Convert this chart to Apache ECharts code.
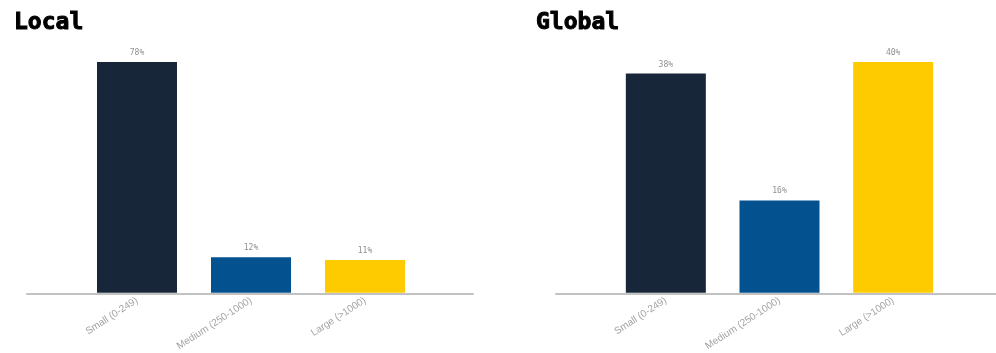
<!DOCTYPE html>
<html>
<head>
<meta charset="utf-8">
<script src="https://cdn.jsdelivr.net/npm/echarts@6/dist/echarts.min.js"></script>
<style>
  html, body { margin: 0; padding: 0; background: #fff; }
  #chart { width: 996px; height: 353px; }
</style>
</head>
<body>
<div id="chart"></div>
<script>
// Company size breakdown, local vs global
const categories = ['Small (0-249)', 'Medium (250-1000)', 'Large (>1000)'];
const localShare = [78, 12, 11];
const globalShare = [38, 16, 40];
const panelTitles = ['Local', 'Global'];

const barColors = ['#182639', '#03518f', '#fecb00'];

const chart = echarts.init(document.getElementById('chart'), null, { renderer: 'canvas' });

const PLOT_TOP = 62;
const PLOT_H = 232;

function coloured(values) {
  return values.map((v, i) => ({ value: v, itemStyle: { color: barColors[i] } }));
}

const titleStyle = {
  fontFamily: 'DejaVu Sans Mono',
  fontWeight: 'bold',
  fontSize: 23,
  color: '#000',
  textBorderColor: '#000',
  textBorderWidth: 1
};

const hiddenValueAxis = (gridIndex, max) => ({
  type: 'value', gridIndex, min: 0, max,
  show: false
});

const categoryAxis = (gridIndex) => ({
  type: 'category', gridIndex, data: categories,
  axisLine: { show: false },
  axisTick: { show: false },
  axisLabel: {
    rotate: 33, margin: 7, interval: 0,
    color: '#a3a3a3', fontSize: 10, fontFamily: 'Liberation Sans'
  }
});

const baselineAxis = (gridIndex) => ({
  type: 'value', gridIndex, min: 0, max: 1,
  axisLine: { show: true, lineStyle: { color: '#c2c2c2', width: 2 } },
  axisTick: { show: false },
  axisLabel: { show: false },
  splitLine: { show: false }
});

const valueLabel = {
  show: true, position: 'top', distance: 5,
  formatter: '{c}%',
  fontFamily: 'DejaVu Sans Mono', fontSize: 8, color: '#8f8f8f'
};

chart.setOption({
  animation: false,
  backgroundColor: '#fff',
  title: [
    { text: panelTitles[0], left: 9, top: 7, textStyle: titleStyle },
    { text: panelTitles[1], left: 531, top: 7, textStyle: titleStyle }
  ],
  grid: [
    // bars, local
    { left: 80, width: 342, top: PLOT_TOP, height: PLOT_H },
    // baseline, local
    { left: 27, width: 446, top: PLOT_TOP, height: PLOT_H },
    // bars, global
    { left: 609, width: 341, top: PLOT_TOP, height: PLOT_H },
    // baseline, global
    { left: 556, width: 440, top: PLOT_TOP, height: PLOT_H }
  ],
  xAxis: [
    categoryAxis(0),
    baselineAxis(1),
    categoryAxis(2),
    baselineAxis(3)
  ],
  yAxis: [
    hiddenValueAxis(0, 78),
    hiddenValueAxis(1, 1),
    hiddenValueAxis(2, 40),
    hiddenValueAxis(3, 1)
  ],
  series: [
    {
      type: 'bar', xAxisIndex: 0, yAxisIndex: 0, barWidth: 80, z: 3,
      data: coloured(localShare), label: valueLabel
    },
    {
      type: 'bar', xAxisIndex: 2, yAxisIndex: 2, barWidth: 80, z: 3,
      data: coloured(globalShare), label: valueLabel
    }
  ]
});
</script>
</body>
</html>
